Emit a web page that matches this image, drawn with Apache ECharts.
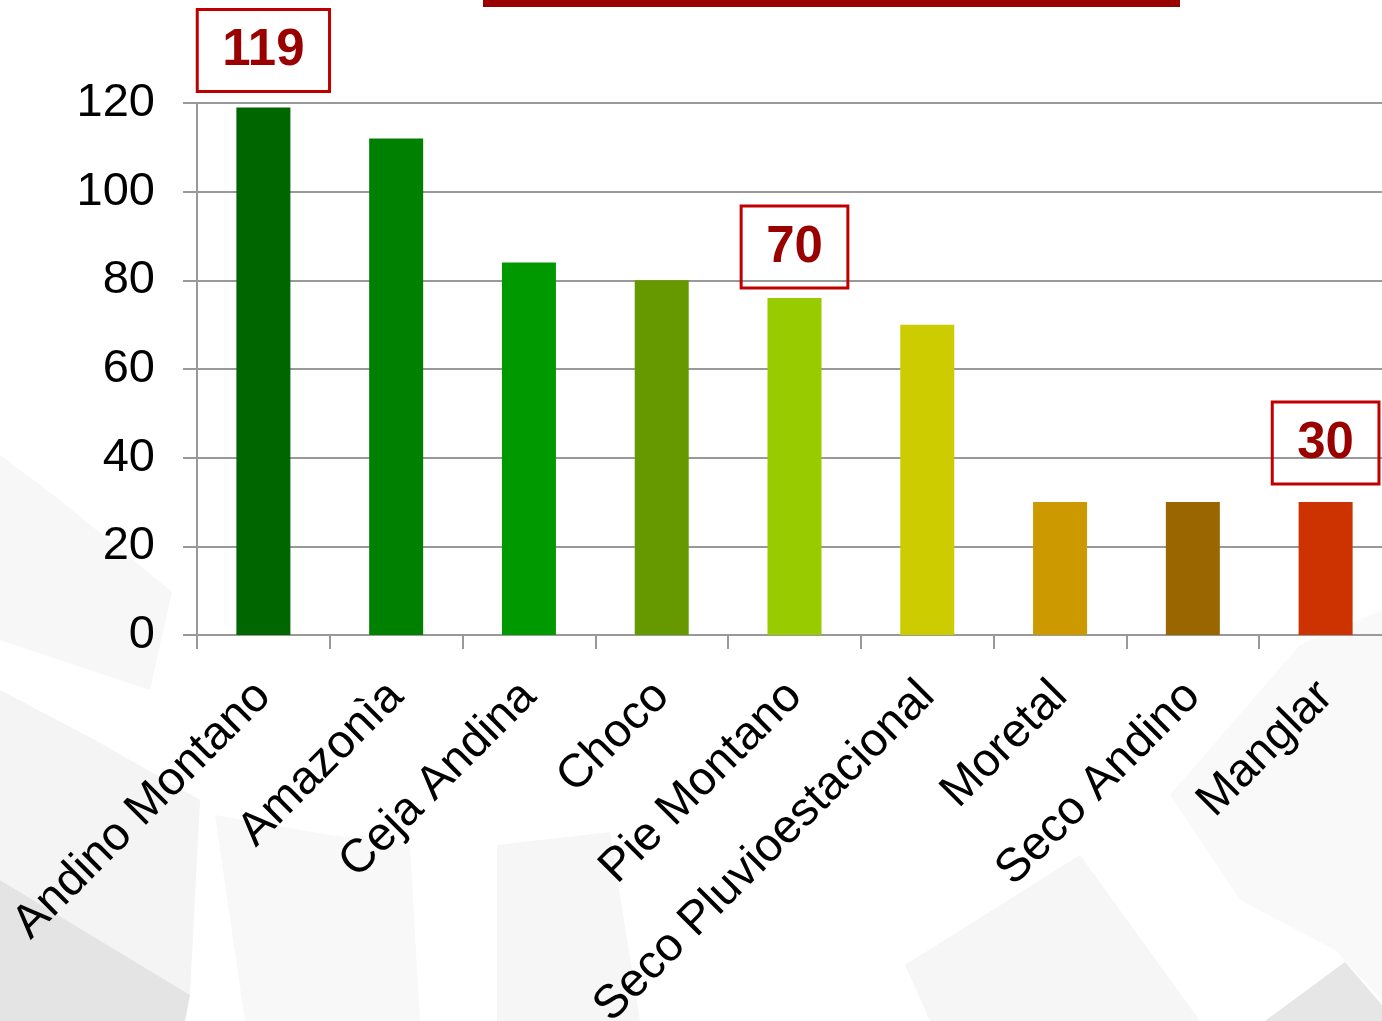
<!DOCTYPE html>
<html>
<head>
<meta charset="utf-8">
<script src="https://cdn.jsdelivr.net/npm/echarts@6/dist/echarts.min.js"></script>
<style>
html,body{margin:0;padding:0;background:#fff;}
#chart{width:1382px;height:1021px;}
</style>
</head>
<body>
<div id="chart"></div>
<script>
// ---- data ----
var categories = ['Andino Montano', 'Amazonìa', 'Ceja Andina', 'Choco', 'Pie Montano', 'Seco Pluvioestacional', 'Moretal', 'Seco Andino', 'Manglar'];
var values = [119, 112, 84, 80, 76, 70, 30, 30, 30];
var barColors = ['#006600', '#008000', '#009900', '#669900', '#99CC00', '#CCCC00', '#CC9900', '#996600', '#CC3300'];
var yTicks = [0, 20, 40, 60, 80, 100, 120];
// boxed annotations: category index and text
var annotationIndex = [0, 4, 8];
var annotationText = ['119', '70', '30'];
var annotationGap = [16, 10, 18];

var chart = echarts.init(document.getElementById('chart'), null, {renderer: 'canvas'});

var seriesData = values.map(function (v, i) {
  var item = {value: v, itemStyle: {color: barColors[i]}};
  var k = annotationIndex.indexOf(i);
  if (k >= 0) {
    item.label = {
      show: true,
      position: 'top',
      distance: annotationGap[k],
      formatter: annotationText[k],
      fontFamily: 'Liberation Sans, Arial, sans-serif',
      fontWeight: 'bold',
      fontSize: 51,
      color: '#990000',
      lineHeight: 52,
      padding: [16, 25, 14, 25],
      borderColor: '#C00000',
      borderWidth: 1.5,
      backgroundColor: 'rgba(255,255,255,0)'
    };
  }
  return item;
});

// decorative background shapes (faint)
var bg = [
  {pts: [[0,455],[60,500],[172,592],[150,690],[0,640]], c: '#f7f7f7'},
  {pts: [[0,690],[95,740],[200,800],[190,995],[0,880]], c: '#f4f4f4'},
  {pts: [[0,880],[190,995],[185,1021],[0,1021]], c: '#e4e4e4'},
  {pts: [[215,815],[330,835],[410,845],[420,1021],[245,1021]], c: '#f8f8f8'},
  {pts: [[497,845],[610,832],[640,1021],[497,1021]], c: '#f6f6f6'},
  {pts: [[905,965],[1080,855],[1200,1021],[930,1021]], c: '#f6f6f6'},
  {pts: [[1170,795],[1300,645],[1382,610],[1382,1000],[1335,950],[1240,900]], c: '#f9f9f9'},
  {pts: [[1265,1021],[1345,962],[1382,1005],[1382,1021]], c: '#e6e6e6'}
];
var graphics = bg.map(function (s) {
  return {type: 'polygon', silent: true, z: -10, shape: {points: s.pts}, style: {fill: s.c}};
});
graphics.push({type: 'rect', silent: true, z: 10, shape: {x: 483, y: 0, width: 697, height: 7}, style: {fill: '#990000'}});

var option = {
  backgroundColor: '#ffffff',
  animation: false,
  graphic: graphics,
  grid: {left: 197, top: 103, right: -10, bottom: 386, containLabel: false, outerBoundsMode: 'none'},
  xAxis: {
    type: 'category',
    data: categories,
    boundaryGap: true,
    axisLine: {show: true, lineStyle: {color: '#999999', width: 2}},
    axisTick: {show: true, length: 14, lineStyle: {color: '#999999', width: 2}},
    axisLabel: {
      interval: 0,
      rotate: 45,
      margin: 54,
      fontFamily: 'Liberation Sans, Arial, sans-serif',
      fontSize: 47,
      color: '#000000'
    }
  },
  yAxis: {
    type: 'value',
    min: yTicks[0],
    max: yTicks[yTicks.length - 1],
    interval: yTicks[1] - yTicks[0],
    axisLine: {show: true, lineStyle: {color: '#999999', width: 2}},
    axisTick: {show: true, length: 14, lineStyle: {color: '#999999', width: 2}},
    splitLine: {show: true, lineStyle: {color: '#999999', width: 2}},
    axisLabel: {
      margin: 42,
      fontFamily: 'Liberation Sans, Arial, sans-serif',
      fontSize: 47,
      color: '#000000'
    }
  },
  series: [{
    type: 'bar',
    data: seriesData,
    barWidth: 54,
    label: {show: false}
  }]
};
chart.setOption(option);
</script>
</body>
</html>
